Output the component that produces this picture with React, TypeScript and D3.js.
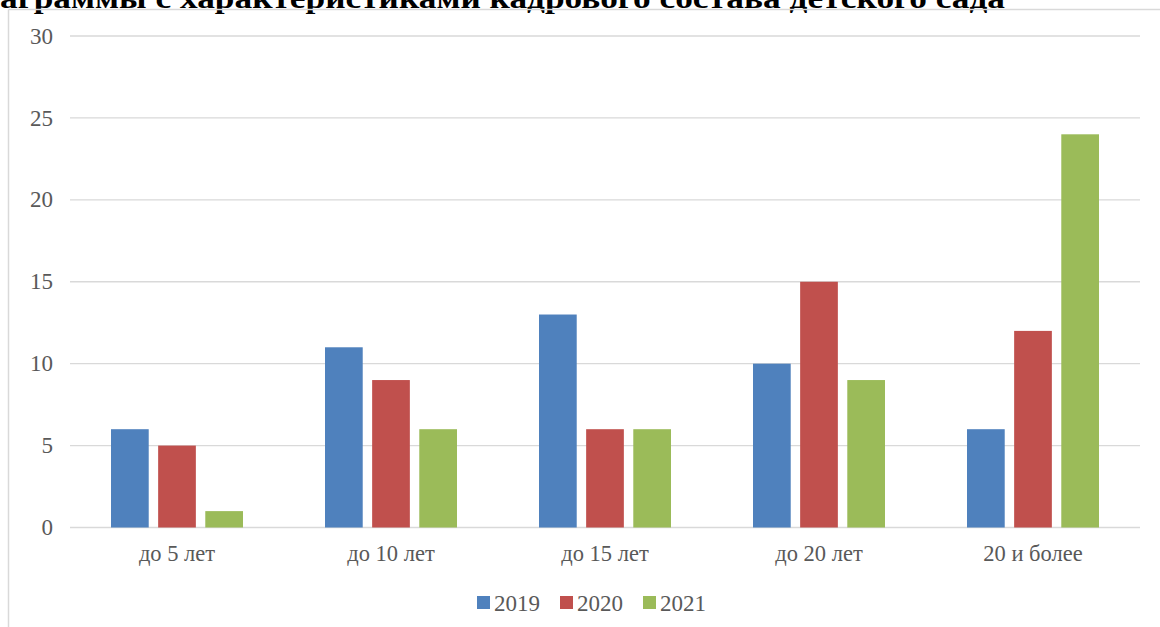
import * as React from 'react';
import * as d3 from 'd3';

const categories = ['до 5 лет', 'до 10 лет', 'до 15 лет', 'до 20 лет', '20 и более'];
const seriesNames = ['2019', '2020', '2021'];
const values2019 = [6, 11, 13, 10, 6];
const values2020 = [5, 9, 6, 15, 12];
const values2021 = [1, 6, 6, 9, 24];
const yTicks = [0, 5, 10, 15, 20, 25, 30];

const COLORS = ['#4F81BD', '#C0504D', '#9BBB59'];
const FONT = "'Liberation Serif'";

export default function App() {
  const width = 1160;
  const height = 627;
  const plot = { left: 70, right: 1140, top: 36, bottom: 527.5 };

  const series = [values2019, values2020, values2021];

  const x = d3.scaleBand<string>().domain(categories).range([plot.left, plot.right]);
  const y = d3.scaleLinear().domain([0, 30]).range([plot.bottom, plot.top]);
  const groupW = 132;
  const txt = { fontFamily: FONT, fill: '#595959' };

  return (
    <div style={{ position: 'fixed', left: 0, top: 0, fontFamily: FONT }}>
      <svg width={width} height={height} style={{ display: 'block', background: '#fff', fontFamily: FONT }}>
        {/* title, clipped by the page top as in the source */}
        <text
          x={0}
          y={8}
          textLength={1005}
          lengthAdjust="spacingAndGlyphs"
          style={{ fontFamily: FONT, fontWeight: 700, fontSize: 29, fill: '#000' }}
        >
          аграммы с характеристиками кадрового состава детского сада
        </text>

        {/* chart frame */}
        <line x1={8.5} y1={9.5} x2={width} y2={9.5} stroke="#D9D9D9" strokeWidth={1.5} />
        <line x1={8.5} y1={9.5} x2={8.5} y2={height} stroke="#D9D9D9" strokeWidth={1.5} />

        {/* grid + y labels */}
        {yTicks.map((t) => (
          <g key={t}>
            <line x1={plot.left} x2={plot.right} y1={y(t)} y2={y(t)} stroke="#D9D9D9" strokeWidth={1.3} />
            <text x={53} y={y(t)} dy="0.33em" textAnchor="end" style={{ ...txt, fontSize: 23 }}>
              {t}
            </text>
          </g>
        ))}

        {/* bars */}
        {categories.map((c, ci) => {
          const cx = (x(c) ?? 0) + x.bandwidth() / 2;
          const x0 = cx - groupW / 2;
          const inner = d3
            .scaleBand<string>()
            .domain(seriesNames)
            .range([x0, x0 + groupW])
            .paddingInner(0.2);
          return (
            <g key={c}>
              {seriesNames.map((s, si) => {
                const v = series[si][ci];
                return (
                  <rect
                    key={s}
                    x={inner(s)}
                    y={y(v)}
                    width={inner.bandwidth()}
                    height={y(0) - y(v)}
                    fill={COLORS[si]}
                  />
                );
              })}
              <text x={cx} y={561} textAnchor="middle" style={{ ...txt, fontSize: 22.5 }}>
                {c}
              </text>
            </g>
          );
        })}

        {/* legend */}
        {seriesNames.map((s, si) => {
          const lx = [477, 560, 643][si];
          return (
            <g key={s}>
              <rect x={lx} y={596} width={13} height={13} fill={COLORS[si]} />
              <text x={lx + 17} y={611} style={{ ...txt, fontSize: 23 }}>
                {s}
              </text>
            </g>
          );
        })}
      </svg>
    </div>
  );
}
